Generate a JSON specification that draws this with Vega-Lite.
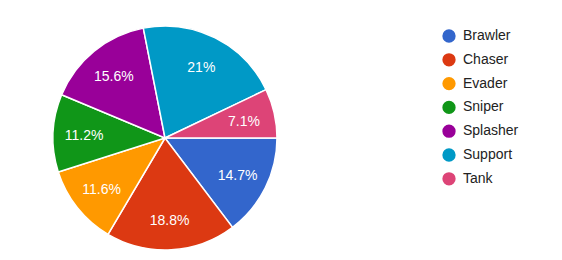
{
  "$schema": "https://vega.github.io/schema/vega-lite/v6.json",
  "width": 330,
  "height": 244,
  "autosize": {"type": "none"},
  "padding": {"left": 0, "top": 16, "right": 232, "bottom": 0},
  "background": "white",
  "config": {"view": {"stroke": null}, "font": "Liberation Sans"},
  "data": {"values": [
    {"type": "Brawler", "share": 0.147},
    {"type": "Chaser", "share": 0.188},
    {"type": "Evader", "share": 0.116},
    {"type": "Sniper", "share": 0.112},
    {"type": "Splasher", "share": 0.156},
    {"type": "Support", "share": 0.21},
    {"type": "Tank", "share": 0.071}
  ]},
  "encoding": {
    "theta": {"field": "share", "type": "quantitative", "stack": true, "scale": {"range": [1.5708, 7.85398]}},
    "order": {"field": "type", "sort": "ascending"},
    "color": {
      "field": "type", "type": "nominal",
      "scale": {"domain": ["Brawler", "Chaser", "Evader", "Sniper", "Splasher", "Support", "Tank"],
                "range": ["#3366cc", "#dc3912", "#ff9900", "#109618", "#990099", "#0099c6", "#dd4477"]},
      "legend": {
        "orient": "none", "legendX": 442, "legendY": 13, "title": null,
        "symbolType": "circle", "symbolSize": 177, "symbolStrokeWidth": 0,
        "labelFont": "Liberation Sans", "labelFontSize": 14, "labelColor": "#222222",
        "labelOffset": 7, "rowPadding": 9.8
      }
    }
  },
  "layer": [
    {"mark": {"type": "arc", "outerRadius": 112, "stroke": "white", "strokeWidth": 1.5}},
    {"mark": {"type": "text", "radius": 81, "dy": 2, "fontSize": 14, "font": "Liberation Sans", "fill": "white"},
     "encoding": {"text": {"field": "share", "type": "quantitative", "format": ".1~%"}, "color": {"value": "white"}}}
  ]
}
